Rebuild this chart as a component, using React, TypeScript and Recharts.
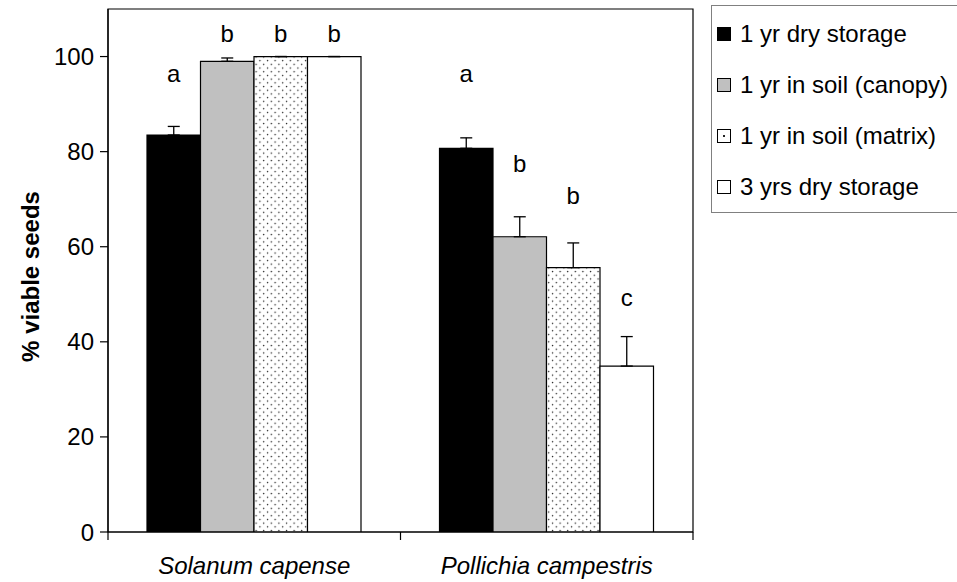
import * as React from "react";
import {
  BarChart,
  Bar,
  XAxis,
  YAxis,
  ErrorBar,
  LabelList,
  ReferenceArea,
} from "recharts";

const species = ["Solanum capense", "Pollichia campestris"];

// mean % viable seeds per treatment
const dryOneYear = [83.5, 80.7];
const soilCanopy = [99.0, 62.1];
const soilMatrix = [100, 55.6];
const dryThreeYears = [100, 34.9];

// standard errors (drawn upward only)
const dryOneYearErr = [1.8, 2.2];
const soilCanopyErr = [0.7, 4.2];
const soilMatrixErr = [0, 5.2];
const dryThreeYearsErr = [0, 6.2];

// significance letters, and the % level each letter is centred on
const dryOneYearLetters = ["a", "a"];
const soilCanopyLetters = ["b", "b"];
const soilMatrixLetters = ["b", "b"];
const dryThreeYearsLetters = ["b", "c"];

const dryOneYearLetterAt = [96.5, 96.5];
const soilCanopyLetterAt = [104.9, 77.6];
const soilMatrixLetterAt = [104.9, 70.8];
const dryThreeYearsLetterAt = [104.9, 49.4];

const yTicks = [0, 20, 40, 60, 80, 100];

const FONT = "'Liberation Sans', Arial, Helvetica, sans-serif";
const FONT_SIZE = 24;

const W = 957;
const H = 582;
const PLOT_LEFT = 108;
const PLOT_RIGHT = 693;
const PLOT_TOP = 9;
const PLOT_BOTTOM = 532;
const LEGEND_LEFT = 711;

const series = [
  {
    key: "dry1",
    name: "1 yr dry storage",
    fill: "#000000",
    values: dryOneYear,
    err: dryOneYearErr,
    letters: dryOneYearLetters,
    letterAt: dryOneYearLetterAt,
  },
  {
    key: "canopy",
    name: "1 yr in soil (canopy)",
    fill: "#c0c0c0",
    values: soilCanopy,
    err: soilCanopyErr,
    letters: soilCanopyLetters,
    letterAt: soilCanopyLetterAt,
  },
  {
    key: "matrix",
    name: "1 yr in soil (matrix)",
    fill: "url(#matrixDots)",
    values: soilMatrix,
    err: soilMatrixErr,
    letters: soilMatrixLetters,
    letterAt: soilMatrixLetterAt,
  },
  {
    key: "dry3",
    name: "3 yrs dry storage",
    fill: "#ffffff",
    values: dryThreeYears,
    err: dryThreeYearsErr,
    letters: dryThreeYearsLetters,
    letterAt: dryThreeYearsLetterAt,
  },
];

const data = species.map((name, i) => {
  const row: Record<string, any> = { name };
  series.forEach((s) => {
    row[s.key] = s.values[i];
    row[s.key + "Err"] = [0, s.err[i]];
  });
  return row;
});

// letter placed at a % level, using the bar's own pixel scale
const letterLabel = (letters: string[], at: number[]) => (props: any) => {
  const vb = props.viewBox ?? props;
  const x = props.x ?? vb.x;
  const y = props.y ?? vb.y;
  const width = props.width ?? vb.width;
  const height = props.height ?? vb.height;
  const value = Number(props.value);
  const idx = props.index ?? 0;
  if (!value || !height) return null;
  const base = y + height;
  const perUnit = height / value;
  return (
    <text
      x={x + width / 2}
      y={base - at[idx] * perUnit}
      textAnchor="middle"
      dominantBaseline="central"
      fontFamily={FONT}
      fontSize={FONT_SIZE}
      fill="#000"
    >
      {letters[idx]}
    </text>
  );
};

const SpeciesTick = (props: any) => {
  const { x, payload, index } = props;
  const half = (PLOT_RIGHT - PLOT_LEFT) / species.length / 2;
  return (
    <g>
      <line x1={x - half} x2={x - half} y1={PLOT_BOTTOM} y2={PLOT_BOTTOM + 8} stroke="#000" strokeWidth={1.2} />
      {index === species.length - 1 && (
        <line x1={x + half} x2={x + half} y1={PLOT_BOTTOM} y2={PLOT_BOTTOM + 8} stroke="#000" strokeWidth={1.2} />
      )}
      <text
        x={x}
        y={PLOT_BOTTOM + 42}
        textAnchor="middle"
        fontFamily={FONT}
        fontSize={FONT_SIZE}
        fontStyle="italic"
        fill="#000"
      >
        {payload.value}
      </text>
    </g>
  );
};

const Swatch = ({ s }: { s: (typeof series)[number] }) => (
  <div
    style={{
      width: 14,
      height: 14,
      boxSizing: "border-box",
      border: "1px solid #000",
      background: s.key === "matrix" ? "#fff" : s.fill,
      position: "relative",
      flex: "none",
    }}
  >
    {s.key === "matrix" && (
      <div
        style={{
          position: "absolute",
          left: 5,
          top: 5,
          width: 2,
          height: 2,
          background: "#222",
        }}
      />
    )}
  </div>
);

const LegendBox = () => (
  <div
    style={{
      position: "absolute",
      left: LEGEND_LEFT,
      top: 5,
      width: W - LEGEND_LEFT,
      height: 208,
      boxSizing: "border-box",
      border: "1px solid #808080",
      borderRight: "none",
      paddingTop: 2,
      fontFamily: FONT,
      fontSize: FONT_SIZE,
      color: "#000",
      background: "#fff",
    }}
  >
    {series.map((s) => (
      <div
        key={s.key}
        style={{ height: 51, display: "flex", alignItems: "center", paddingLeft: 5, whiteSpace: "nowrap" }}
      >
        <Swatch s={s} />
        <span style={{ marginLeft: 9 }}>{s.name}</span>
      </div>
    ))}
  </div>
);

export default function App() {
  return (
    <div style={{ position: "absolute", left: 0, top: 0, width: W, height: H, overflow: "hidden", background: "#fff" }}>
      <BarChart
        width={W}
        height={H}
        data={data}
        barGap={0}
        barSize={53.5}
        margin={{ top: PLOT_TOP, right: W - PLOT_RIGHT, bottom: 10, left: 0 }}
      >
        <defs>
          <pattern id="matrixDots" patternUnits="userSpaceOnUse" width="7.6" height="7.4">
            <rect width="7.6" height="7.4" fill="#fff" />
            <circle cx="1.5" cy="1.5" r="0.75" fill="#222" />
            <circle cx="5.3" cy="5.2" r="0.75" fill="#222" />
          </pattern>
        </defs>
        <ReferenceArea
          x1={species[0]}
          x2={species[species.length - 1]}
          y1={0}
          y2={110}
          fill="none"
          stroke="#000"
          strokeWidth={1.2}
          ifOverflow="visible"
        />
        <XAxis
          dataKey="name"
          height={H - PLOT_BOTTOM - 10}
          axisLine={{ stroke: "#000", strokeWidth: 1.2 }}
          tickLine={false}
          tick={<SpeciesTick />}
          interval={0}
        />
        <YAxis
          width={PLOT_LEFT}
          domain={[0, 110]}
          ticks={yTicks}
          allowDataOverflow
          axisLine={{ stroke: "#000", strokeWidth: 1.2 }}
          tickLine={{ stroke: "#000", strokeWidth: 1.2 }}
          tickSize={8}
          tickMargin={6}
          tick={{ fontFamily: FONT, fontSize: FONT_SIZE, fill: "#000" }}
          label={{
            content: (p: any) => {
              const vb = p.viewBox;
              const cx = 30;
              const cy = vb.y + vb.height / 2 + 6;
              return (
                <text
                  x={cx}
                  y={cy}
                  transform={`rotate(-90, ${cx}, ${cy})`}
                  textAnchor="middle"
                  dominantBaseline="central"
                  fontFamily={FONT}
                  fontSize={FONT_SIZE}
                  fontWeight="bold"
                  fill="#000"
                >
                  % viable seeds
                </text>
              );
            },
          }}
        />
        {series.map((s) => (
          <Bar
            key={s.key}
            dataKey={s.key}
            name={s.name}
            fill={s.fill}
            stroke="#000"
            strokeWidth={1.2}
            isAnimationActive={false}
          >
            <ErrorBar
              dataKey={s.key + "Err"}
              direction="y"
              width={6}
              stroke="#000"
              strokeWidth={1.3}
              isAnimationActive={false}
            />
            <LabelList dataKey={s.key} content={letterLabel(s.letters, s.letterAt)} />
          </Bar>
        ))}
      </BarChart>
      <LegendBox />
    </div>
  );
}
